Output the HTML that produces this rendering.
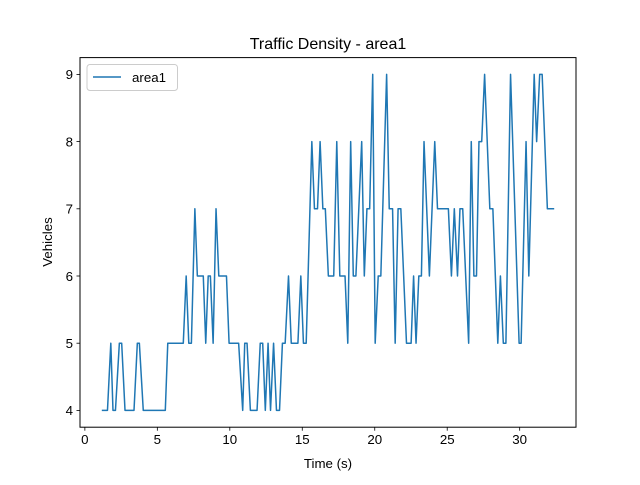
<!DOCTYPE html>
<html><head><meta charset="utf-8"><style>
body{margin:0;background:#fff;}
svg text{font-family:"Liberation Sans","DejaVu Sans",sans-serif;fill:#000;}
</style></head><body>
<svg id="chart" width="640" height="480" xmlns="http://www.w3.org/2000/svg">
<rect width="640" height="480" fill="#fff"/>
<text x="328" y="49" font-size="16" text-anchor="middle">Traffic Density - area1</text>
<g id="plot"></g>
<rect x="80" y="57.6" width="496" height="369.6" fill="none" stroke="#000" stroke-width="1"/>
<text x="328" y="468" font-size="13.3" text-anchor="middle">Time (s)</text>
<text transform="translate(52,242) rotate(-90)" font-size="13.3" text-anchor="middle">Vehicles</text>
<g>
<rect x="87" y="64.5" width="90.5" height="26" rx="3" fill="#fff" fill-opacity="0.8" stroke="#ccc"/>
<line x1="93" y1="77" x2="121" y2="77" stroke="#1f77b4" stroke-width="1.5"/>
<text x="132" y="82" font-size="13.3">area1</text>
</g>
</svg>
<script>
const times = [1.22,1.56,1.79,1.94,2.11,2.38,2.54,2.77,3.39,3.62,3.76,4.03,5.55,5.72,6.79,6.99,7.17,7.35,7.59,7.76,8.17,8.34,8.51,8.66,8.85,9.05,9.24,9.77,9.95,10.61,10.89,11.03,11.19,11.42,11.88,12.10,12.27,12.45,12.64,12.81,13.02,13.22,13.43,13.63,13.82,14.05,14.24,14.70,14.90,15.08,15.27,15.66,15.84,16.05,16.23,16.42,16.59,16.80,17.17,17.38,17.59,17.95,18.14,18.34,18.52,18.70,19.10,19.28,19.46,19.65,19.86,20.03,20.24,20.42,20.82,21.00,21.23,21.41,21.61,21.80,22.19,22.51,22.68,22.85,23.04,23.22,23.40,23.77,24.14,24.33,25.08,25.29,25.49,25.71,25.88,26.07,26.48,26.66,26.84,27.02,27.19,27.38,27.58,27.94,28.15,28.49,28.67,28.87,29.05,29.37,29.96,30.10,30.44,30.63,31.00,31.17,31.38,31.55,31.91,32.33];
const vehicles = [4,4,5,4,4,5,5,4,4,5,5,4,4,5,5,6,5,5,7,6,6,5,6,6,5,7,6,6,5,5,4,5,5,4,4,5,5,4,5,4,5,4,4,5,5,6,5,5,6,5,5,8,7,7,8,7,7,6,6,8,6,6,5,8,6,6,8,6,7,7,9,5,6,6,9,7,7,5,7,7,5,5,6,5,6,6,8,6,8,7,7,6,7,6,7,7,5,8,6,6,8,8,9,7,7,5,6,5,5,9,5,5,8,6,9,8,9,9,7,7];
const xTicks = [0,5,10,15,20,25,30];
const yTicks = [4,5,6,7,8,9];
const X0=80,X1=576,Y0=57.6,Y1=427.2;
const tMin=Math.min(...times),tMax=Math.max(...times),vMin=Math.min(...vehicles),vMax=Math.max(...vehicles);
const xLo=tMin-0.05*(tMax-tMin),xHi=tMax+0.05*(tMax-tMin);
const yLo=vMin-0.05*(vMax-vMin),yHi=vMax+0.05*(vMax-vMin);
const sx=t=>X0+(t-xLo)/(xHi-xLo)*(X1-X0);
const sy=v=>Y1-(v-yLo)/(yHi-yLo)*(Y1-Y0);
const NS="http://www.w3.org/2000/svg";
const g=document.getElementById('plot');
function mk(tag,attrs){const e=document.createElementNS(NS,tag);for(const k in attrs)e.setAttribute(k,attrs[k]);g.appendChild(e);return e;}
xTicks.forEach(t=>{
  const l=mk('line',{x1:sx(t),x2:sx(t),y1:Y1,y2:Y1+3.5,stroke:'#000','stroke-width':0.8});
  
  
  const tx=mk('text',{x:sx(t),y:Y1+17,'font-size':13.3,'text-anchor':'middle'});
  tx.textContent=t;
  
  
});
yTicks.forEach(v=>{
  const l=mk('line',{x1:X0-3.5,x2:X0,y1:sy(v),y2:sy(v),stroke:'#000','stroke-width':0.8});
  
  
  const tx=mk('text',{x:X0-7,y:sy(v)+4.8,'font-size':13.3,'text-anchor':'end'});
  tx.textContent=v;
  
  
});
const pts=times.map((t,i)=>sx(t).toFixed(2)+','+sy(vehicles[i]).toFixed(2)).join(' ');
const line=mk('polyline',{points:pts,fill:'none',stroke:'#1f77b4','stroke-width':1.5,'stroke-linejoin':'round','stroke-linecap':'square'});


</script>
</body></html>
